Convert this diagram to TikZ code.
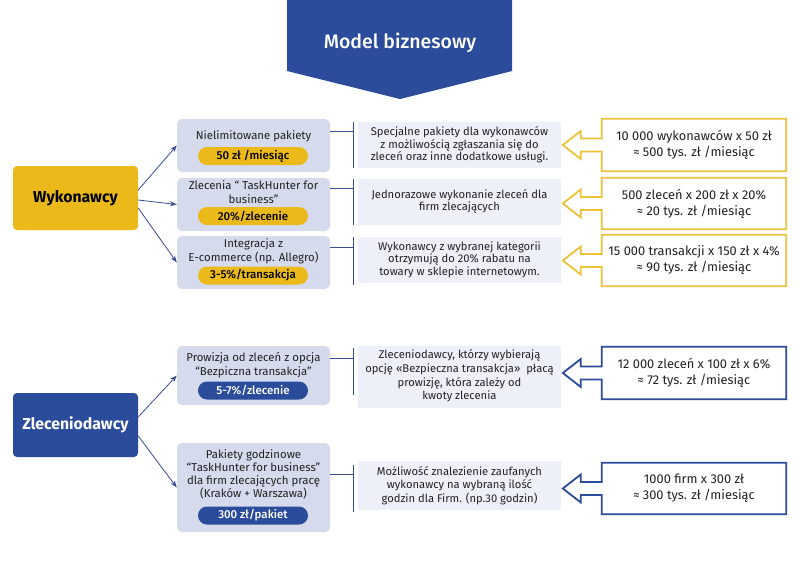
\documentclass[tikz,border=0pt]{standalone}
\usepackage{fontspec}
\setmainfont{Fira Sans}
\newfontfamily\medfont{Fira Sans}[UprightFont=* Medium]
\usetikzlibrary{calc,arrows.meta}
\definecolor{tblue}{HTML}{2B4B9B}
\definecolor{tyellow}{HTML}{EBB91A}
\definecolor{cyellow}{HTML}{EBC23A}
\definecolor{midfill}{HTML}{D5DBED}
\definecolor{descfill}{HTML}{EDF0F8}
\definecolor{lineblue}{HTML}{3A4B96}
\definecolor{txt}{HTML}{222222}
\newcommand{\calloutpath}[2]{%
  \draw[#2, line width=1.8pt, line join=miter]
    (#1.north west) -- (#1.north east) -- (#1.south east) -- (#1.south west)
    -- ($(#1.west)+(0,6.5)$) -- ($(#1.west)+(-21,6.5)$) -- ($(#1.west)+(-21,14)$)
    -- ($(#1.west)+(-39,0)$) -- ($(#1.west)+(-21,-14)$) -- ($(#1.west)+(-21,-6.5)$)
    -- ($(#1.west)+(0,-6.5)$) -- cycle;}
\tikzset{
  bigbox/.style={rounded corners=4pt, minimum width=125pt, minimum height=64pt, inner sep=0pt,
     font=\fontsize{15.8}{18}\selectfont\bfseries},
  midbox/.style={fill=midfill, rounded corners=5pt, minimum width=153pt, inner sep=0pt},
  midtxt/.style={align=center, inner sep=0pt, text=txt, font=\fontsize{11.4}{13.5}\selectfont},
  pill/.style={rounded corners=9pt, minimum width=110pt, minimum height=18pt, inner sep=0pt,
     font=\fontsize{11.5}{12}\selectfont\medfont},
  descbox/.style={fill=descfill, minimum width=203pt, inner sep=0pt},
  desctxt/.style={align=center, inner sep=0pt, text=txt, font=\fontsize{11.2}{12.6}\selectfont},
  callbox/.style={minimum width=184pt, inner sep=0pt, align=center, text=txt,
     font=\fontsize{12.8}{16}\selectfont},
  conn/.style={draw=lineblue, line width=0.9pt},
  arr/.style={draw=lineblue, line width=0.8pt, -{Stealth[length=7pt,width=5pt]}}
}
\begin{document}
\begin{tikzpicture}[x=1pt,y=-1pt]
\useasboundingbox[fill=white] (0,0) rectangle (800,565);

% banner
\fill[tblue] (287,0) -- (512,0) -- (512,71) -- (400,99) -- (287,71) -- cycle;
\node[text=white, font=\fontsize{19.5}{22}\selectfont\medfont] (title) at (400,43) {Model biznesowy};

% big boxes
\node[bigbox, fill=tyellow, text=black] (wyk) at (75.5,198) {Wykonawcy};
\node[bigbox, fill=tblue, text=white] (zle) at (75.5,425) {Zleceniodawcy};

% middle boxes
\node[midbox, minimum height=53pt] (m1) at (253.5,145.5) {};
\node[midbox, minimum height=53pt] (m2) at (253.5,204.5) {};
\node[midbox, minimum height=53pt] (m3) at (253.5,262.5) {};
\node[midbox, minimum height=59pt] (m4) at (253.5,375.5) {};
\node[midbox, minimum height=89pt] (m5) at (253.5,487.5) {};

\node[midtxt] (m1t) at (253.5,136) {Nielimitowane pakiety};
\node[midtxt] (m2t) at (253.5,192) {Zlecenia “ TaskHunter for\\business”};
\node[midtxt] (m3t) at (253.5,251.5) {Integracja z\\E-commerce (np. Allegro)};
\node[midtxt] (m4t) at (253.5,365) {Prowizja od zleceń z opcja\\“Bezpiczna transakcja”};
\node[midtxt, font=\fontsize{11.4}{13}\selectfont] (m5t) at (253.5,474.5) {Pakiety godzinowe\\“TaskHunter for business”\\dla firm zlecających pracę\\(Kraków + Warszawa)};

\node[pill, fill=tyellow, text=black] (p1) at (253,156) {50 zł /miesiąc};
\node[pill, fill=tyellow, text=black] (p2) at (253,216) {20\%/zlecenie};
\node[pill, fill=tyellow, text=black] (p3) at (253,275.5) {3-5\%/transakcja};
\node[pill, fill=tblue, text=white] (p4) at (253,390.5) {5-7\%/zlecenie};
\node[pill, fill=tblue, text=white] (p5) at (253,515.5) {300 zł/pakiet};

% arrows from big boxes
\draw[arr] ($(wyk.east)+(0,-8)$) -- (m1.west);
\draw[arr] ($(wyk.east)+(0,2)$) -- (m2.west);
\draw[arr] ($(wyk.east)+(0,10)$) -- (m3.west);
\draw[arr] ($(zle.east)+(0,-8)$) -- (m4.west);
\draw[arr] ($(zle.east)+(0,11)$) -- (m5.west);

% description boxes
\node[descbox, minimum height=46pt] (d1) at (459.5,145) {};
\node[descbox, minimum height=46pt] (d2) at (459.5,202) {};
\node[descbox, minimum height=46pt] (d3) at (459.5,260) {};
\node[descbox, minimum height=62pt] (d4) at (459.5,377) {};
\node[descbox, minimum height=49pt] (d5) at (459.5,485.5) {};

\node[desctxt] (d1t) at (459.5,145) {Specjalne pakiety dla wykonawców\\z możliwością zgłaszania się do\\zleceń oraz inne dodatkowe usługi.};
\node[desctxt] (d2t) at (459.5,201.5) {Jednorazowe wykonanie zleceń dla\\firm zlecających};
\node[desctxt] (d3t) at (459.5,259.5) {Wykonawcy z wybranej kategorii\\otrzymują do 20\% rabatu na\\towary w sklepie internetowym.};
\node[desctxt, font=\fontsize{11.2}{13.6}\selectfont] (d4t) at (459.5,376) {Zleceniodawcy, którzy wybierają\\opcję «Bezpieczna transakcja»~ płacą\\prowizję, która zależy od\\kwoty zlecenia};
\node[desctxt, font=\fontsize{11.2}{13.6}\selectfont] (d5t) at (459.5,485.5) {Możliwość znalezienie zaufanych\\wykonawcy na wybraną ilość\\godzin dla Firm. (np.30 godzin)};

% connectors middle -> description
\coordinate (v1) at (353,131);
\coordinate (v2) at (353,188);
\coordinate (v3) at (353,247);
\coordinate (v4) at (353,358);
\coordinate (v5) at (353,474);
\draw[conn] (m1.east |- v1) -- (v1);
\draw[conn] (m2.east |- v2) -- (v2);
\draw[conn] (m3.east |- v3) -- (v3);
\draw[conn] (m4.east |- v4) -- (v4);
\draw[conn] (m5.east |- v5) -- (v5);
\draw[conn] (353,122) -- (353,168);
\draw[conn] (353,179) -- (353,225);
\draw[conn] (353,237) -- (353,285);
\draw[conn] (353,348) -- (353,395);
\draw[conn] (353,465) -- (353,512);

% callouts
\node[callbox, minimum height=52pt] (c1) at (694,145) {10 000 wykonawców x 50 zł\\≈ 500 tys. zł /miesiąc};
\node[callbox, minimum height=51pt] (c2) at (694,203.5) {500 zleceń x 200 zł x 20\%\\≈ 20 tys. zł /miesiąc};
\node[callbox, minimum height=51pt] (c3) at (694,260.5) {15 000 transakcji x 150 zł x 4\%\\≈ 90 tys. zł /miesiąc};
\node[callbox, minimum height=52pt] (c4) at (694,373) {12 000 zleceń x 100 zł x 6\%\\≈ 72 tys. zł /miesiąc};
\node[callbox, minimum height=51pt] (c5) at (694,488.5) {1000 firm x 300 zł\\≈ 300 tys. zł /miesiąc};
\calloutpath{c1}{cyellow}
\calloutpath{c2}{cyellow}
\calloutpath{c3}{cyellow}
\calloutpath{c4}{tblue}
\calloutpath{c5}{tblue}
\end{tikzpicture}
\end{document}
